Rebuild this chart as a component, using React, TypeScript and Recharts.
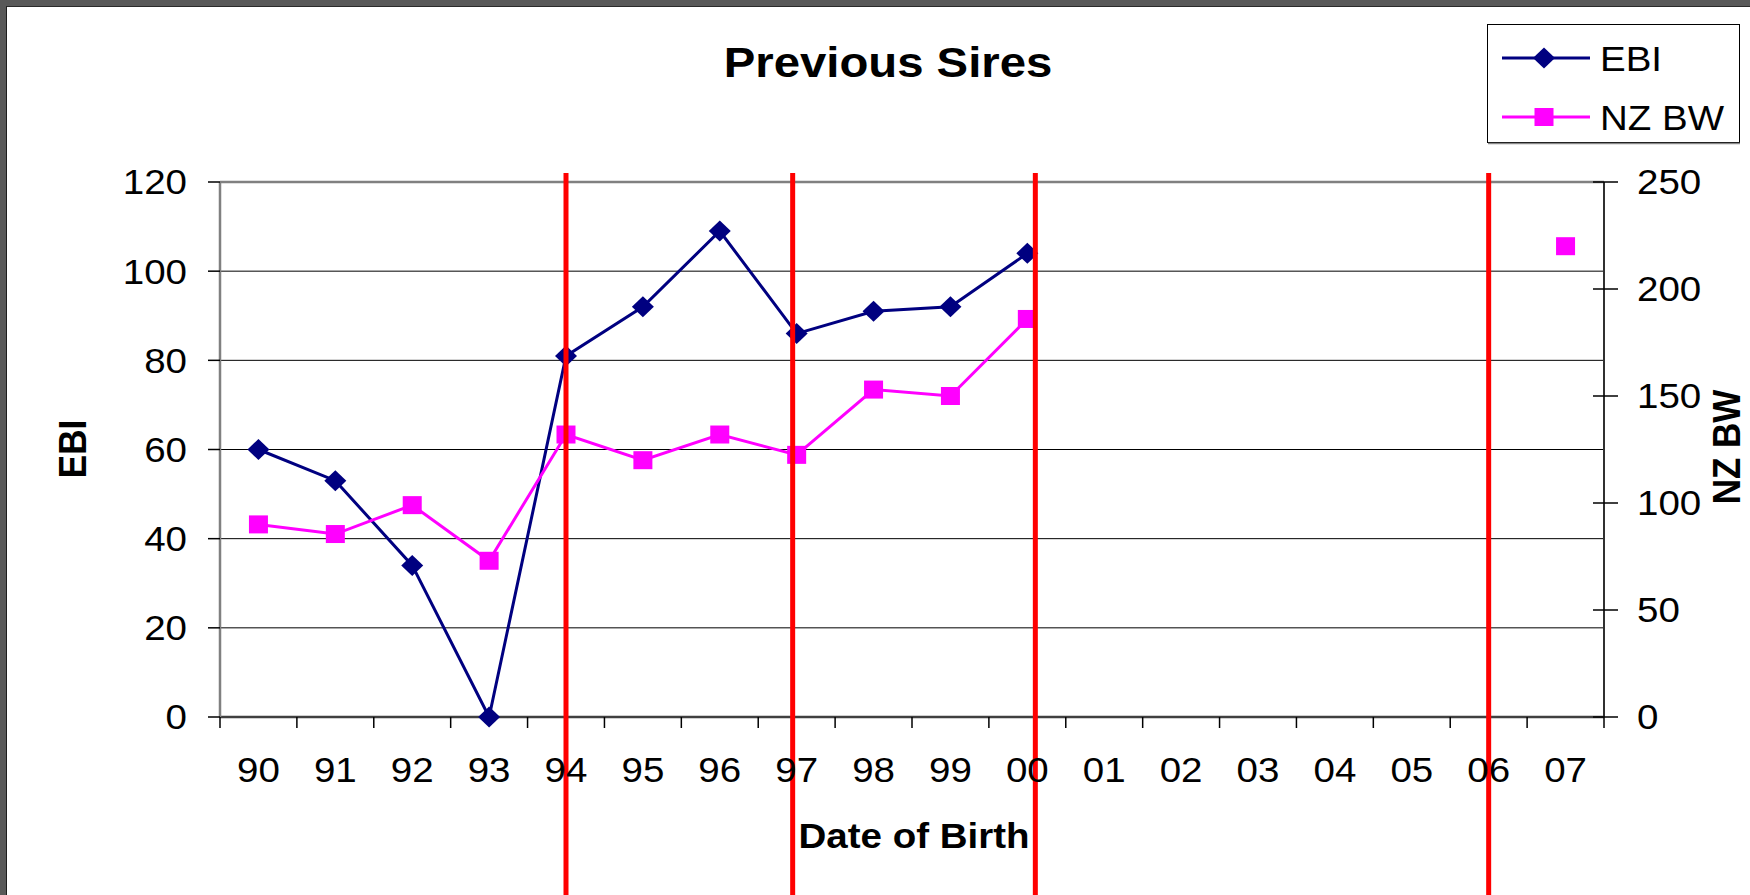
import { LineChart, Line, XAxis, YAxis, CartesianGrid, ReferenceLine } from "recharts";

const YEARS = ["90", "91", "92", "93", "94", "95", "96", "97", "98", "99", "00", "01", "02", "03", "04", "05", "06", "07"];
const EBI = [60, 53, 34, 0, 81, 92, 109, 86, 91, 92, 104, null, null, null, null, null, null, null];
const NZ_BW = [90, 85.5, 99, 73, 132, 120, 132, 122.5, 153, 150, 186, null, null, null, null, null, null, 220];
const EBI_TICKS = [0, 20, 40, 60, 80, 100, 120];
const BW_TICKS = [0, 50, 100, 150, 200, 250];
const MARKED_YEARS = ["94", "97", "00", "06"];

const data = YEARS.map((year, i) => ({ year, ebi: EBI[i], bw: NZ_BW[i] }));

const W = 1750;
const H = 895;
const MARGIN = { top: 182, right: 46, bottom: 78, left: 120 };
const Y_AXIS_W = 100;
const X_AXIS_H = 100;
const PLOT_W = W - MARGIN.left - MARGIN.right - 2 * Y_AXIS_W;
const BAND = PLOT_W / YEARS.length;

const FONT = '"Liberation Sans", Arial, sans-serif';
const STRETCH = 1.1;
const NAVY = "#000080";
const PINK = "#FF00FF";
const RED = "#FF0000";
// hand-drawn red markers sit a little off the category centres
const RED_NUDGE: Record<string, number> = { "97": -4, "00": 8 };

function Diamond(props: any) {
  const { cx, cy, index } = props;
  if (cx == null || cy == null) return <g key={`d-${index}`} />;
  return (
    <polygon
      key={`d-${index}`}
      points={`${cx},${cy - 10.5} ${cx + 11},${cy} ${cx},${cy + 10.5} ${cx - 11},${cy}`}
      fill={NAVY}
    />
  );
}

function Square(props: any) {
  const { cx, cy, index } = props;
  if (cx == null || cy == null) return <g key={`s-${index}`} />;
  return <rect key={`s-${index}`} x={cx - 9.5} y={cy - 9} width={19} height={18} fill={PINK} />;
}

function LeftTick({ x, y, payload }: any) {
  return (
    <text
      transform={`translate(${x},${y}) scale(${STRETCH},1)`}
      textAnchor="end"
      dy="0.355em"
      fontSize={35}
      fontFamily={FONT}
      fill="#000"
    >
      {payload.value}
    </text>
  );
}

function RightTick({ x, y, payload }: any) {
  const axisX = x - 33;
  return (
    <g>
      <line x1={axisX - 11} y1={y} x2={axisX} y2={y} stroke="#000" strokeWidth={1.5} />
      <text
        transform={`translate(${x},${y}) scale(${STRETCH},1)`}
        textAnchor="start"
        dy="0.355em"
        fontSize={35}
        fontFamily={FONT}
        fill="#000"
      >
        {payload.value}
      </text>
    </g>
  );
}

function YearTick({ x, y, payload, index }: any) {
  const axisY = y - 40;
  const left = x - BAND / 2;
  return (
    <g>
      <line x1={left} y1={axisY} x2={left} y2={axisY + 11} stroke="#000" strokeWidth={1.5} />
      {index === YEARS.length - 1 && (
        <line x1={x + BAND / 2} y1={axisY} x2={x + BAND / 2} y2={axisY + 11} stroke="#000" strokeWidth={1.5} />
      )}
      <text
        transform={`translate(${x},${y}) scale(${STRETCH},1)`}
        textAnchor="middle"
        dy="0.71em"
        fontSize={35}
        fontFamily={FONT}
        fill="#000"
      >
        {payload.value}
      </text>
    </g>
  );
}

function redShape(year: string) {
  const nudge = RED_NUDGE[year] ?? 0;
  return (p: any) => (
    <line x1={p.x1 + nudge} x2={p.x2 + nudge} y1={173} y2={H} stroke={RED} strokeWidth={5} />
  );
}

function Texts() {
  return (
    <svg width={W} height={H} style={{ position: "absolute", left: 0, top: 0 }}>
      <text
        transform={`translate(888,77) scale(${STRETCH},1)`}
        textAnchor="middle"
        fontSize={43}
        fontWeight="bold"
        fontFamily={FONT}
      >
        Previous Sires
      </text>
      <text
        transform={`translate(914,848) scale(${STRETCH},1)`}
        textAnchor="middle"
        fontSize={35}
        fontWeight="bold"
        fontFamily={FONT}
      >
        Date of Birth
      </text>
      <text
        transform={`translate(86,449) rotate(-90) scale(1,${STRETCH})`}
        textAnchor="middle"
        fontSize={35}
        fontWeight="bold"
        fontFamily={FONT}
      >
        EBI
      </text>
      <text
        transform={`translate(1740,447) rotate(-90) scale(1,${STRETCH})`}
        textAnchor="middle"
        fontSize={35}
        fontWeight="bold"
        fontFamily={FONT}
      >
        NZ BW
      </text>
    </svg>
  );
}

function LegendBox() {
  return (
    <svg width={254} height={121} style={{ position: "absolute", left: 1487, top: 24 }}>
      <rect x={0.5} y={0.5} width={252} height={118} fill="#fff" stroke="#000" strokeWidth={1} />
      <line x1={1} y1={119.5} x2={253} y2={119.5} stroke="#888" strokeWidth={1.5} />
      <line x1={15} y1={34} x2={103} y2={34} stroke={NAVY} strokeWidth={3} />
      <polygon points="57,23.5 68,34 57,44.5 46,34" fill={NAVY} />
      <text transform={`translate(113,47) scale(${STRETCH},1)`} fontSize={35} fontFamily={FONT}>
        EBI
      </text>
      <line x1={15} y1={93} x2={103} y2={93} stroke={PINK} strokeWidth={3} />
      <rect x={47.5} y={84} width={19} height={18} fill={PINK} />
      <text transform={`translate(113,106) scale(${STRETCH},1)`} fontSize={35} fontFamily={FONT}>
        NZ BW
      </text>
    </svg>
  );
}

export default function App() {
  return (
    <div style={{ position: "absolute", left: 0, top: 0, width: W, height: H, background: "#595959", overflow: "hidden" }}>
      <div
        style={{
          position: "absolute",
          left: 6,
          top: 6,
          width: W - 6,
          height: H - 6,
          background: "#fff",
          borderLeft: "1px solid #1e1e1e",
          borderTop: "1px solid #2a2a2a",
          boxSizing: "border-box",
        }}
      />
      <Texts />
      <div style={{ position: "absolute", left: 0, top: 0 }}>
        <LineChart width={W} height={H} data={data} margin={MARGIN}>
          <CartesianGrid yAxisId="left" vertical={false} stroke="#000" strokeWidth={1} />
          <XAxis
            dataKey="year"
            interval={0}
            height={X_AXIS_H}
            padding={{ left: BAND / 2, right: BAND / 2 }}
            tickLine={false}
            tickSize={0}
            tickMargin={40}
            tick={<YearTick />}
            axisLine={{ stroke: "#404040", strokeWidth: 2.5 }}
          />
          <YAxis
            yAxisId="left"
            width={Y_AXIS_W}
            domain={[0, 120]}
            ticks={EBI_TICKS}
            tickSize={12}
            tickMargin={21}
            tick={<LeftTick />}
            tickLine={{ stroke: "#000", strokeWidth: 1.5 }}
            axisLine={{ stroke: "#808080", strokeWidth: 2.5 }}
          />
          <YAxis
            yAxisId="right"
            orientation="right"
            width={Y_AXIS_W}
            domain={[0, 250]}
            ticks={BW_TICKS}
            tickSize={14}
            tickMargin={19}
            tick={<RightTick />}
            tickLine={{ stroke: "#000", strokeWidth: 1.5 }}
            axisLine={{ stroke: "#303030", strokeWidth: 2 }}
          />
          <ReferenceLine yAxisId="left" y={120} stroke="#808080" strokeWidth={2.5} />
          <Line
            yAxisId="left"
            dataKey="ebi"
            name="EBI"
            stroke={NAVY}
            strokeWidth={3}
            dot={Diamond}
            activeDot={false}
            isAnimationActive={false}
          />
          <Line
            yAxisId="right"
            dataKey="bw"
            name="NZ BW"
            stroke={PINK}
            strokeWidth={3}
            dot={Square}
            activeDot={false}
            isAnimationActive={false}
          />
          {MARKED_YEARS.map((year) => (
            <ReferenceLine
              key={year}
              yAxisId="left"
              x={year}
              stroke={RED}
              strokeWidth={5}
              zIndex={1000}
              shape={redShape(year)}
            />
          ))}
        </LineChart>
      </div>
      <LegendBox />
    </div>
  );
}
